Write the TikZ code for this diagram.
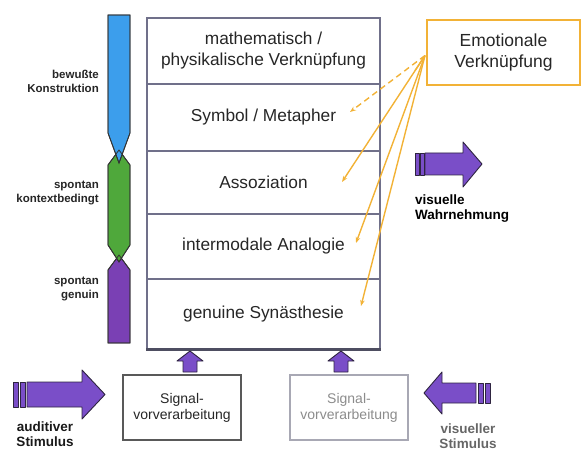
\documentclass[tikz,border=0pt]{standalone}
\usepackage{fontspec}
\setmainfont{Liberation Sans}
\usetikzlibrary{arrows.meta,calc}
\definecolor{frame}{HTML}{70708A}
\definecolor{gold}{HTML}{F2B236}
\definecolor{fatviolet}{HTML}{7A4EC8}
\definecolor{fatedge}{HTML}{2E2440}
\definecolor{barblue}{HTML}{3C9EEC}
\definecolor{bargreen}{HTML}{4FA83B}
\definecolor{barpurple}{HTML}{7A40B4}
\definecolor{faint}{HTML}{A8A8B4}
\begin{document}
\begin{tikzpicture}[x=1pt,y=-1pt,
  level/.style={draw=frame, line width=1.6pt, minimum width=233pt, inner sep=0pt,
    align=center, text=black!85, font=\fontsize{17.3}{21}\selectfont},
  sidelabel/.style={anchor=east, align=right, inner sep=0pt, text=black!85,
    font=\bfseries\fontsize{11.5}{13.5}\selectfont},
  inputlabel/.style={align=center, inner sep=0pt, font=\bfseries\fontsize{13.5}{15}\selectfont},
  prebox/.style={draw, line width=1.5pt, minimum width=118pt, minimum height=65pt,
    align=center, inner sep=0pt, font=\fontsize{14}{16}\selectfont},
  barpart/.style={draw=black!80, line width=0.8pt},
  fat/.style={fill=fatviolet, draw=fatedge, line width=0.9pt, line join=round},
  link/.style={draw=gold, line width=1.4pt, -{Stealth[length=6pt,width=4.5pt]}}
]
\useasboundingbox (0,0) rectangle (582,452);

% level stack
\node[level, minimum height=66pt, anchor=north] (math) at (263.5,17)
  {mathematisch /\\physikalische Verknüpfung};
\node[level, minimum height=67pt, anchor=north] (sym) at (263.5,83) {Symbol / Metapher};
\node[level, minimum height=63pt, anchor=north] (asso) at (263.5,150) {Assoziation};
\node[level, minimum height=65pt, anchor=north] (inter) at (263.5,213) {intermodale Analogie};
\node[level, minimum height=70pt, anchor=north] (gen) at (263.5,278) {genuine Synästhesie};
\draw[frame!70!black, line width=2.6pt] (gen.south west) -- (gen.south east);

% mode bar on the left
\fill[barpart, fill=barpurple] (119,255) -- (130,270) -- (130,343) -- (108,343) -- (108,270) -- cycle;
\fill[barpart, fill=bargreen] (119,150) -- (130,165) -- (130,245) -- (119,262) -- (108,245) -- (108,165) -- cycle;
\fill[barpart, fill=barblue] (108,15) -- (130,15) -- (130,133) -- (119,163) -- (108,133) -- cycle;
\draw[barpart] (119,255) -- (130,270) -- (130,343) -- (108,343) -- (108,270) -- cycle;
\draw[barpart] (119,150) -- (130,165) -- (130,245) -- (119,262) -- (108,245) -- (108,165) -- cycle;
\draw[barpart] (108,15) -- (130,15) -- (130,133) -- (119,163) -- (108,133) -- cycle;

\node[sidelabel] (lbw) at (99,81.5) {bewußte\\Konstruktion};
\node[sidelabel] (lkx) at (99,193) {spontan\\kontextbedingt};
\node[sidelabel] (lgn) at (99,289) {spontan\\genuin};

% emotional link box and its connectors
\node[draw=gold, line width=2pt, minimum width=153pt, minimum height=65pt, align=center,
  text=black!85, font=\fontsize{17.5}{21}\selectfont] (emo) at (503.5,52.5)
  {Emotionale\\Verknüpfung};
\coordinate (hub) at ($(emo.west)+(-1,3)$);
\coordinate (eS) at (350,112);
\coordinate (eA) at (342,182);
\coordinate (eI) at (356,243);
\coordinate (eG) at (361,306);
\draw[link, dashed, dash pattern=on 6pt off 4pt] (hub) -- (eS);
\draw[link] (hub) -- (eA);
\draw[link] (hub) -- (eI);
\draw[link] (hub) -- (eG);
\draw[draw=gold, line width=1.4pt, -{Stealth[length=6pt,width=4.5pt]}] ($(hub)!0.12!(eA)$) -- (hub);

% visual perception output arrow
\draw[fat] (415,153) rectangle (419,175);
\draw[fat] (420,153) rectangle (424,175);
\draw[fat] (425,153) -- (463,153) -- (463,142) -- (482,164) -- (463,187) -- (463,175) -- (425,175) -- cycle;
\node[inputlabel, anchor=west, align=left] (wahr) at (415,209) {visuelle\\Wahrnehmung};

% signal preprocessing boxes
\node[prebox, draw=black!65, text=black!85] (pre1) at (182,407.5) {Signal-\\vorverarbeitung};
\node[prebox, draw=faint, text=black!45] (pre2) at (349,407.5) {Signal-\\vorverarbeitung};

% small upward arrows into the stack
\draw[fat] (183,372) -- (183,361) -- (177,361) -- (190,351) -- (203,361) -- (197,361) -- (197,372) -- cycle;
\draw[fat] (334,372) -- (334,361) -- (328,361) -- (341,351) -- (354,361) -- (348,361) -- (348,372) -- cycle;

% auditory stimulus arrow
\draw[fat] (13,382) rectangle (18,407);
\draw[fat] (20,382) rectangle (25,407);
\draw[fat] (27,382) -- (82,382) -- (82,370) -- (105,394.5) -- (82,419) -- (82,407) -- (27,407) -- cycle;
\node[inputlabel, text=black!90] (aud) at (45,434) {auditiver\\Stimulus};

% visual stimulus arrow
\draw[fat] (485,383) rectangle (490,403);
\draw[fat] (478,383) rectangle (483,403);
\draw[fat] (476,383) -- (442,383) -- (442,372) -- (424,393) -- (442,414) -- (442,403) -- (476,403) -- cycle;
\node[inputlabel, text=black!60] (vis) at (468,436) {visueller\\Stimulus};
\end{tikzpicture}
\end{document}
